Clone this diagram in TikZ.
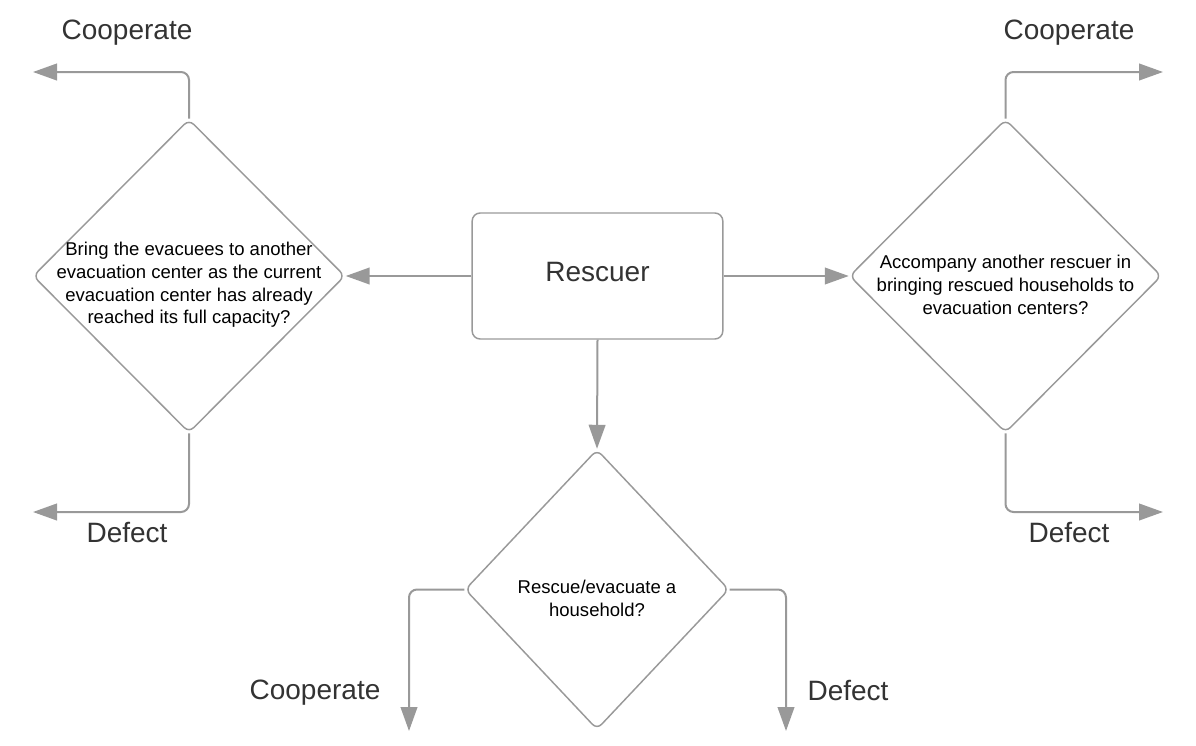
\documentclass[tikz,border=0pt]{standalone}
\usepackage{fontspec}
\setmainfont{Liberation Sans}
\usetikzlibrary{shapes.geometric,arrows.meta}
\definecolor{linegray}{HTML}{999999}
\definecolor{textgray}{HTML}{333333}

\begin{document}
\begin{tikzpicture}[x=0.75pt, y=-0.75pt,
    question/.style={diamond, draw=linegray, line width=1.1pt, rounded corners=5pt, inner sep=0pt},
    qtext/.style={align=center, font=\fontsize{13.9}{17}\selectfont, yshift=-6.75pt},
    outcome/.style={text=textgray, font=\fontsize{21}{25}\selectfont},
    arr/.style={draw=linegray, line width=1.5pt, rounded corners=6pt, -{Triangle[length=18pt,width=12.5pt]}}]
    \useasboundingbox (0,0) rectangle (1196,746);
    % agent
    \node[draw=linegray, line width=1.1pt, rounded corners=6pt, minimum width=188pt, minimum height=94.5pt] (rescuer) at (597.5,276) {};
    \node[text=textgray, font=\fontsize{21}{25}\selectfont] (rtext) at (597.5,272) {Rescuer};
    % decisions
    \node[question, minimum width=234pt, minimum height=235pt,
          label={[qtext]center:Bring the evacuees to another\\evacuation center as the current\\evacuation center has already\\reached its full capacity?}] (leftq) at (189,276) {};
    \node[question, minimum width=234pt, minimum height=235pt,
          label={[qtext]center:Accompany another rescuer in\\bringing rescued households to\\evacuation centers?}] (rightq) at (1005.5,276) {};
    \node[question, minimum width=198pt, minimum height=210pt,
          label={[qtext]center:Rescue/evacuate a\\household?}] (midq) at (597,589.5) {};
    % arrow ends
    \coordinate (lc) at (33,72);
    \coordinate (ld) at (33,512);
    \coordinate (rc) at (1163,72);
    \coordinate (rd) at (1163,512);
    \coordinate (mc) at (409,731);
    \coordinate (md) at (786,731);
    \draw[arr] (rescuer.west) -- (leftq.east);
    \draw[arr] (rescuer.east) -- (rightq.west);
    \draw[arr] (rescuer.south) -- (midq.north);
    \draw[arr] (leftq.north) |- (lc);
    \draw[arr] (leftq.south) |- (ld);
    \draw[arr] (rightq.north) |- (rc);
    \draw[arr] (rightq.south) |- (rd);
    \draw[arr] (midq.west) -| (mc);
    \draw[arr] (midq.east) -| (md);
    % outcomes
    \node[outcome] (lcl) at (127,33) {Cooperate};
    \node[outcome] (ldl) at (127,533) {Defect};
    \node[outcome] (rcl) at (1069,33) {Cooperate};
    \node[outcome] (rdl) at (1069,533) {Defect};
    \node[outcome] (mcl) at (315,693) {Cooperate};
    \node[outcome] (mdl) at (848,690) {Defect};
\end{tikzpicture}
\end{document}
